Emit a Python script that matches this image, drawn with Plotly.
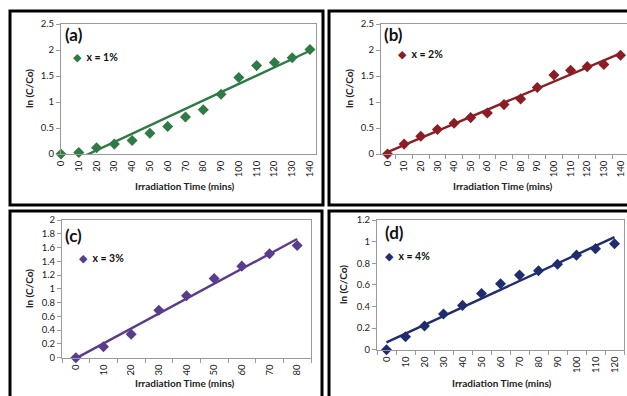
import numpy as np
import plotly.graph_objects as go

W, H = 627, 396

# ---------------- data ----------------
time_a = [0, 10, 20, 30, 40, 50, 60, 70, 80, 90, 100, 110, 120, 130, 140]
lnc_a = [0, 0.03, 0.12, 0.19, 0.26, 0.40, 0.53, 0.71, 0.85, 1.15, 1.47, 1.70, 1.76, 1.85, 2.01]

time_b = [0, 10, 20, 30, 40, 50, 60, 70, 80, 90, 100, 110, 120, 130, 140]
lnc_b = [0, 0.19, 0.34, 0.47, 0.59, 0.70, 0.79, 0.95, 1.06, 1.28, 1.52, 1.61, 1.68, 1.72, 1.90]

time_c = [0, 10, 20, 30, 40, 50, 60, 70, 80]
lnc_c = [0, 0.16, 0.34, 0.69, 0.90, 1.15, 1.33, 1.51, 1.63]

time_d = [0, 10, 20, 30, 40, 50, 60, 70, 80, 90, 100, 110, 120]
lnc_d = [0, 0.12, 0.22, 0.33, 0.41, 0.52, 0.61, 0.69, 0.73, 0.79, 0.875, 0.935, 0.98]

panel_labels = ["(a)", "(b)", "(c)", "(d)"]
legend_labels = ["x = 1%", "x = 2%", "x = 3%", "x = 4%"]
colors = ["#2F7A45", "#8B1E24", "#5A3C8E", "#1F2D6E"]
x_title = "Irradiation Time (mins)"
y_title = "ln (C/Co)"

FONT = "Lato"
AXIS_GRAY = "#9A9A9A"

def px_x(p):
    return p / W

def px_y(p):
    return 1 - p / H

# panel geometry in pixels: plot-area left/right/top/bottom, x range, y range, dtick
panels = [
    dict(t=time_a, y=lnc_a, L=61, R=316, T=24, B=154, xr=[0, 143.4], yr=[0, 2.5], dy=0.5,
         cat=False, lab=(63, 35), leg=(71, 57), xt=(185, 186), yt=(29, 89)),
    dict(t=time_b, y=lnc_b, L=381, R=627, T=24, B=154, xr=[-3.9, 143.9], yr=[0, 2.5], dy=0.5,
         cat=True, lab=(382, 35), leg=(396, 54), xt=(503, 186), yt=(349, 89)),
    dict(t=time_c, y=lnc_c, L=62, R=311, T=220, B=357.7, xr=[-5, 85], yr=[0, 2], dy=0.2,
         cat=True, lab=(63, 235), leg=(77, 258), xt=(185, 383), yt=(29, 289)),
    dict(t=time_d, y=lnc_d, L=377, R=624, T=220, B=349.7, xr=[-5, 125], yr=[0, 1.2], dy=0.2,
         cat=True, lab=(383, 233), leg=(383, 256), xt=(502, 383), yt=(343, 285)),
]

fig = go.Figure()
annotations = []
layout_axes = {}

for i, p in enumerate(panels):
    n = i + 1
    xa = "x" if n == 1 else f"x{n}"
    ya = "y" if n == 1 else f"y{n}"
    xkey = "xaxis" if n == 1 else f"xaxis{n}"
    ykey = "yaxis" if n == 1 else f"yaxis{n}"
    col = colors[i]

    t = np.array(p["t"], dtype=float)
    v = np.array(p["y"], dtype=float)
    slope, icpt = np.polyfit(t, v, 1)
    fit_x = np.array([t.min(), t.max()])
    fit_y = slope * fit_x + icpt

    fig.add_trace(go.Scatter(
        x=fit_x, y=fit_y, mode="lines", line=dict(color=col, width=2.4),
        xaxis=xa, yaxis=ya, showlegend=False, hoverinfo="skip",
        name=f"Linear ({legend_labels[i]})"))
    fig.add_trace(go.Scatter(
        x=t, y=v, mode="markers", name=legend_labels[i],
        marker=dict(symbol="diamond", size=8.5, color=col),
        cliponaxis=False, xaxis=xa, yaxis=ya, showlegend=False))

    xaxis = dict(
        domain=[px_x(p["L"]), px_x(p["R"])], range=p["xr"], anchor=ya,
        showline=True, linecolor=AXIS_GRAY, linewidth=1, mirror=True,
        showgrid=False, zeroline=False,
        tickmode="array", tickvals=p["t"], ticktext=[str(int(x)) for x in p["t"]],
        tickangle=-90, tickfont=dict(family=FONT, size=9.5, color="#222222"),
        ticks="outside", ticklen=2, tickcolor="rgba(0,0,0,0)",
    )
    if p["cat"]:
        half = [x - 5 for x in p["t"]] + [p["t"][-1] + 5]
        xaxis["minor"] = dict(tickmode="array", tickvals=half, ticks="outside",
                              ticklen=4, tickcolor=AXIS_GRAY, tickwidth=1)
    yticks = list(np.round(np.arange(p["yr"][0], p["yr"][1] + 1e-9, p["dy"]), 2))
    yaxis = dict(
        domain=[px_y(p["B"]), px_y(p["T"])], range=p["yr"], anchor=xa,
        showline=True, linecolor=AXIS_GRAY, linewidth=1, mirror=True,
        showgrid=False, zeroline=False,
        tickmode="array", tickvals=yticks, ticktext=[f"{y:g}" for y in yticks],
        ticks="outside", ticklen=4, tickcolor=AXIS_GRAY,
        tickfont=dict(family=FONT, size=9.5, color="#222222"),
    )
    layout_axes[xkey] = xaxis
    layout_axes[ykey] = yaxis

    # legend entry (diamond symbol + label) drawn as text
    annotations.append(dict(
        text=f"<span style='color:{col}'>◆</span>  <b>{legend_labels[i]}</b>",
        x=px_x(p["leg"][0]), y=px_y(p["leg"][1]),
        xref="paper", yref="paper", xanchor="left", yanchor="middle", showarrow=False,
        font=dict(family=FONT, size=10.5, color="#111111")))
    annotations.append(dict(
        text=f"<b>{panel_labels[i]}</b>", x=px_x(p["lab"][0]), y=px_y(p["lab"][1]),
        xref="paper", yref="paper", xanchor="left", yanchor="middle", showarrow=False,
        font=dict(family=FONT, size=17, color="#111111")))
    annotations.append(dict(
        text=f"<b>{x_title}</b>", x=px_x(p["xt"][0]), y=px_y(p["xt"][1]),
        xref="paper", yref="paper", xanchor="center", yanchor="middle", showarrow=False,
        font=dict(family=FONT, size=10, color="#222222")))
    annotations.append(dict(
        text=f"<b>{y_title}</b>", x=px_x(p["yt"][0]), y=px_y(p["yt"][1]),
        xref="paper", yref="paper", xanchor="center", yanchor="middle", showarrow=False,
        textangle=-90, font=dict(family=FONT, size=10, color="#222222")))

# black panel frames
frames = [(10, 11, 323, 205), (329, 11, 632, 205), (10, 211, 322, 400), (329, 211, 632, 400)]
shapes = [dict(type="rect", xref="paper", yref="paper",
               x0=px_x(a), y0=px_y(d), x1=px_x(c), y1=px_y(b),
               line=dict(color="black", width=3), layer="above")
          for (a, b, c, d) in frames]

fig.update_layout(
    width=W, height=H, margin=dict(l=0, r=0, t=0, b=0, autoexpand=False),
    paper_bgcolor="white", plot_bgcolor="white", showlegend=False,
    annotations=annotations, shapes=shapes, **layout_axes)

fig.write_html("out.html", config={"displayModeBar": False},
               post_script="document.body.style.margin='0px';")
